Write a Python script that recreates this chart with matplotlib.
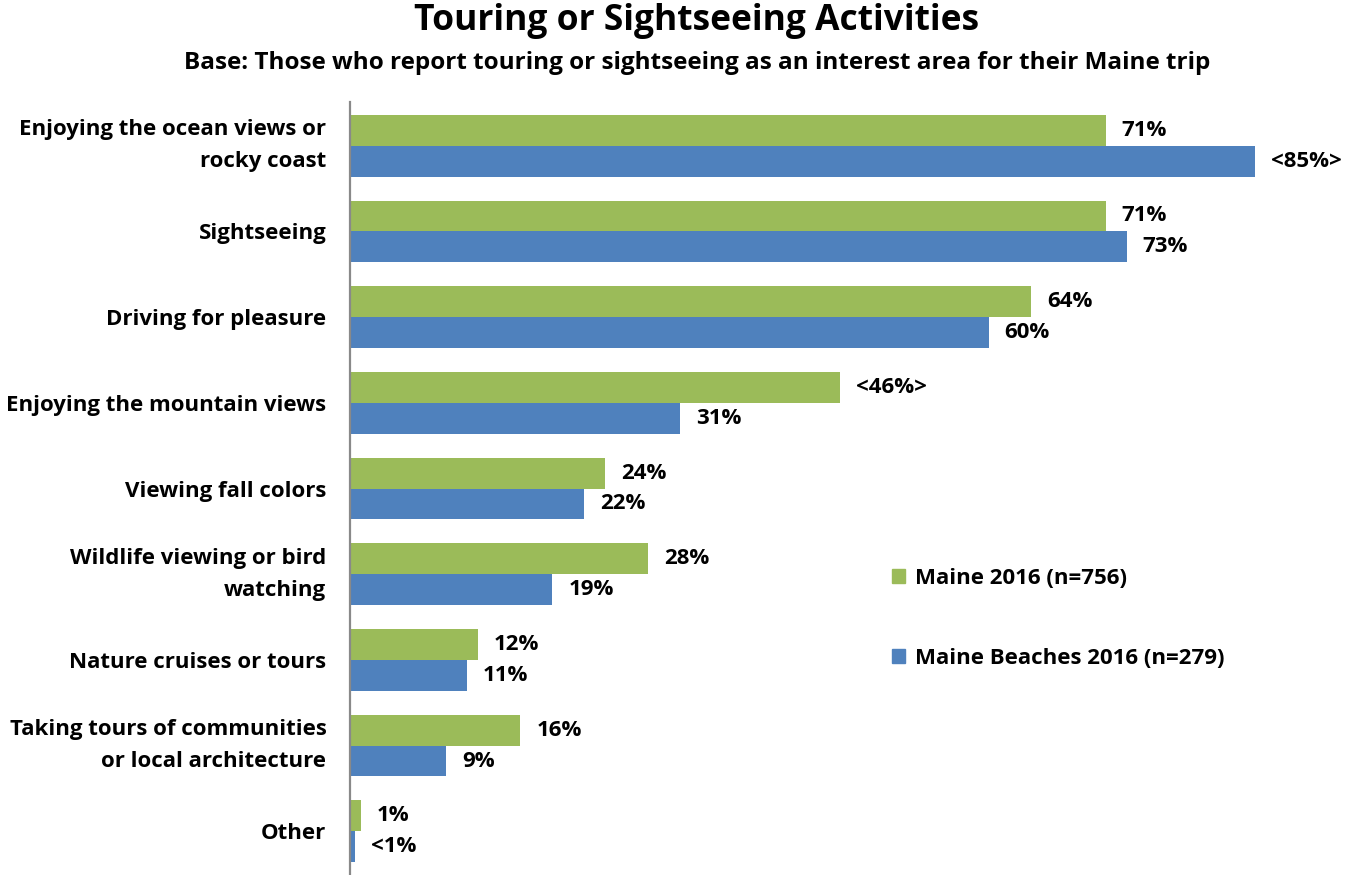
import matplotlib
matplotlib.use("Agg")
import matplotlib.pyplot as plt
from matplotlib.patches import Patch
import numpy as np

plt.rcParams['font.family'] = ['Open Sans', 'DejaVu Sans']
plt.rcParams['font.weight'] = 'bold'

categories = [
    "Enjoying the ocean views or\nrocky coast",
    "Sightseeing",
    "Driving for pleasure",
    "Enjoying the mountain views",
    "Viewing fall colors",
    "Wildlife viewing or bird\nwatching",
    "Nature cruises or tours",
    "Taking tours of communities\nor local architecture",
    "Other",
]
maine = [71, 71, 64, 46, 24, 28, 12, 16, 1]
beaches = [85, 73, 60, 31, 22, 19, 11, 9, 0.5]
maine_labels = ["71%", "71%", "64%", "<46%>", "24%", "28%", "12%", "16%", "1%"]
beaches_labels = ["<85%>", "73%", "60%", "31%", "22%", "19%", "11%", "9%", "<1%"]
series_names = ["Maine 2016 (n=756)", "Maine Beaches 2016 (n=279)"]

GREEN = "#9BBB59"
BLUE = "#4F81BD"

W, H = 1345, 875
fig = plt.figure(figsize=(W / 100, H / 100), dpi=100)
ax = fig.add_axes([350 / W, 0, (W - 350) / W, (H - 102) / H])

y = np.arange(len(categories))
bh = 0.36
ax.barh(y - bh / 2, maine, height=bh, color=GREEN)
ax.barh(y + bh / 2, beaches, height=bh, color=BLUE)

ax.set_xlim(0, 93.5)
ax.set_ylim(len(categories) - 0.49, -0.51)

FS = 16
for yi, v, lab in zip(y, maine, maine_labels):
    ax.annotate(lab, (v, yi - bh / 2), xytext=(16, 0), textcoords="offset pixels",
                ha="left", va="center", fontsize=FS, fontweight="bold")
for yi, v, lab in zip(y, beaches, beaches_labels):
    ax.annotate(lab, (v, yi + bh / 2), xytext=(16, 0), textcoords="offset pixels",
                ha="left", va="center", fontsize=FS, fontweight="bold")

ax.set_yticks(y)
ax.set_yticklabels(categories, fontsize=FS, fontweight="bold", linespacing=1.7)
for t in ax.get_yticklabels():
    if "\n" in t.get_text():
        t.set_verticalalignment("center")
ax.tick_params(axis="y", length=0, pad=17)
ax.set_xticks([])
for side in ["top", "right", "bottom"]:
    ax.spines[side].set_visible(False)
ax.spines["left"].set_color("#898989")
ax.spines["left"].set_linewidth(1.6)

handles = [Patch(color=GREEN), Patch(color=BLUE)]
fig.legend(handles, series_names, loc="upper left",
           bbox_to_anchor=(872 / W, 1 - 548 / H), frameon=False,
           prop={"weight": "bold", "size": FS},
           handlelength=0.6, handleheight=0.6, handletextpad=0.45,
           labelspacing=2.65)

fig.text(697 / W, 1 - 21 / H, "Touring or Sightseeing Activities",
         ha="center", va="center", fontsize=25.5, fontweight="bold")
fig.text(697 / W, 1 - 63 / H,
         "Base: Those who report touring or sightseeing as an interest area for their Maine trip",
         ha="center", va="center", fontsize=17.5, fontweight="bold")

fig.savefig("out.png", dpi=100)
